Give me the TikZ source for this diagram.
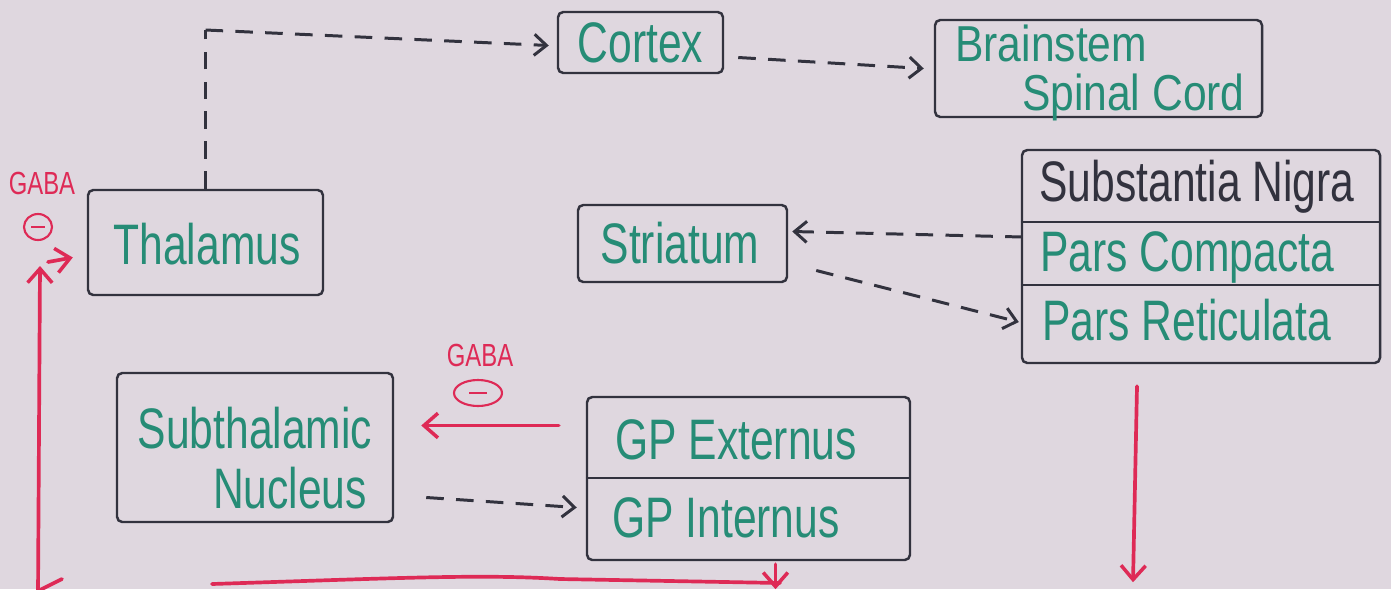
\documentclass[tikz,border=0pt]{standalone}
\usepackage{fontspec}
\setmainfont{Liberation Sans}
\usetikzlibrary{arrows.meta,calc,shapes.geometric}
\definecolor{paper}{RGB}{223,215,223}
\definecolor{ink}{RGB}{50,50,62}
\definecolor{teal}{RGB}{38,140,118}
\definecolor{redink}{RGB}{222,42,86}
% tall, narrow hand-lettered look
\newcommand{\tallword}[1]{\scalebox{0.97}[1.3]{#1}}
\tikzset{
  box/.style={draw=ink, line width=1.4pt, rounded corners=3pt, inner sep=0pt},
  lbl/.style={text=teal, font=\fontsize{25}{30}\selectfont, inner sep=0pt},
  hdr/.style={text=ink, font=\fontsize{25}{30}\selectfont, inner sep=0pt},
  divider/.style={draw=ink, line width=1.3pt},
  dashar/.style={draw=ink, line width=1.7pt, dash pattern=on 10pt off 7pt,
    -{Straight Barb[length=7pt,width=12pt,line width=1.7pt]}},
  dashln/.style={draw=ink, line width=1.7pt, dash pattern=on 10pt off 7pt},
  inh/.style={draw=redink, line width=2.1pt, line cap=round,
    -{Straight Barb[length=8pt,width=14pt,line width=2pt]}},
  redln/.style={draw=redink, line width=2.1pt, line cap=round},
  gaba/.style={text=redink, font=\fontsize{14}{16}\selectfont, inner sep=0pt},
  minus/.style={ellipse, draw=redink, line width=1.2pt, inner sep=0pt},
}
\begin{document}
\begin{tikzpicture}[x=0.02cm, y=-0.02cm]
  \useasboundingbox (0,0) rectangle (1391,589);
  \fill[paper] (0,0) rectangle (1391,589);
  \clip (0,0) rectangle (1391,589);

  % boxes
  \node[box, minimum width=165*0.02cm, minimum height=61*0.02cm] (cortex) at (640.5,42.5) {};
  \node[lbl] (cortextxt) at (cortex) {\tallword{Cortex}};

  \node[box, minimum width=327*0.02cm, minimum height=97*0.02cm] (bs) at (1098.5,68.5) {};
  \node[lbl, anchor=west] (bstxt) at (955,43) {\scalebox{0.97}[1.15]{Brainstem}};
  \node[lbl, anchor=east] (sctxt) at (1245,97) {\scalebox{0.97}[1.15]{Spinal Cord}};

  \node[box, minimum width=235*0.02cm, minimum height=105*0.02cm] (thal) at (205.5,242.5) {};
  \node[lbl] (thaltxt) at (207,244) {\tallword{Thalamus}};

  \node[box, minimum width=209*0.02cm, minimum height=77*0.02cm] (str) at (682.5,243.5) {};
  \node[lbl] (strtxt) at (680,243) {\tallword{Striatum}};

  \node[box, minimum width=358*0.02cm, minimum height=213*0.02cm] (sn) at (1201,256.5) {};
  \node[hdr] (snhead) at (1197,187) {\tallword{Substantia Nigra}};
  \node[lbl, anchor=west] (snpc) at (1040,257) {\tallword{Pars Compacta}};
  \node[lbl, anchor=west] (snpr) at (1042,320) {\tallword{Pars Reticulata}};
  \draw[divider] (sn.west |- 0,222) -- (sn.east |- 0,222);
  \draw[divider] (sn.west |- 0,285) -- (sn.east |- 0,285);

  \node[box, minimum width=276*0.02cm, minimum height=149*0.02cm] (stn) at (255,447.5) {};
  \node[lbl] (stntxt1) at (255,428) {\tallword{Subthalamic}};
  \node[lbl] (stntxt2) at (290,488) {\tallword{Nucleus}};

  \node[box, minimum width=323*0.02cm, minimum height=163*0.02cm] (gp) at (748.5,478.5) {};
  \node[lbl, anchor=west] (gpe) at (615,440) {\tallword{GP Externus}};
  \node[lbl, anchor=west] (gpi) at (612,518) {\tallword{GP Internus}};
  \draw[divider] (gp.west |- 0,478) -- (gp.east |- 0,478);

  % excitatory (dashed) projections
  \draw[dashln] (thal.north) -- (thal.north |- 0,30);
  \draw[dashar] (thal.north |- 0,30) -- ($(cortex.west)+(-8,3)$);
  \draw[dashar] ($(cortex.east)+(14,15)$) -- ($(bs.west)+(-10,0)$);
  \draw[dashar] ($(snpc -| sn.west)+(2,-20)$) -- ($(str.east)+(4,-12)$);
  \draw[dashar] ($(str.east)+(28,27)$) -- ($(snpr -| sn.west)+(-2,2)$);
  \draw[dashar] ($(stn.east)+(32,50)$) -- ($(gp.west)+(-9,29)$);

  % inhibitory (GABA) projections
  \node[gaba] (gaba2) at (480,355) {\tallword{GABA}};
  \node[minus, minimum width=48*0.02cm, minimum height=26*0.02cm] (minus2) at (478,393) {};
  \draw[redink, line width=1.2pt] ($(minus2.center)+(-9,0)$) -- ($(minus2.center)+(9,0)$);
  \draw[inh] ($(gp.west)+(-27,-53)$) -- ($(stn.east)+(27,-22)$);

  \node[gaba] (gaba1) at (42,183) {\tallword{GABA}};
  \node[minus, minimum width=28*0.02cm, minimum height=26*0.02cm] (minus1) at (38,227) {};
  \draw[redink, line width=1.2pt] ($(minus1.center)+(-7,0)$) -- ($(minus1.center)+(7,0)$);

  \draw[inh] ($(gp.south)+(27,3)$) -- ($(gp.south)+(27,28)$);
  \draw[inh] ($(sn.south)+(-64,22)$) -- ($(sn.south)+(-68,218)$);

  \coordinate (botl) at (38,595);
  \coordinate (upl) at (40,266);
  \draw[inh] (botl) -- (upl);
  \draw[inh] ($(upl)+(8,-4)$) -- ($(thal.west)+(-14,15)$);

  \draw[redln] (40,590) -- (62,579);
  \draw[redln] (212,584) .. controls (400,578) and (480,574) .. (560,579) -- (780,583);
\end{tikzpicture}
\end{document}
